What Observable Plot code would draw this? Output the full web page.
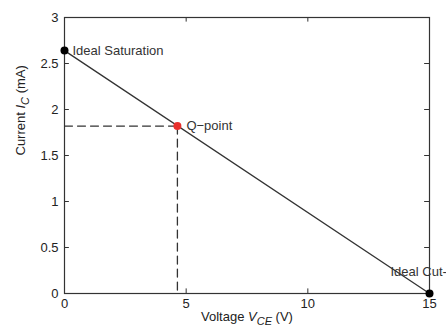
<!DOCTYPE html>
<html><head><meta charset="utf-8">
<script src="https://cdn.jsdelivr.net/npm/d3@7"></script>
<script src="https://cdn.jsdelivr.net/npm/@observablehq/plot@0.6"></script>
<style>body{margin:0;background:#fff;overflow:hidden}svg{overflow:hidden}</style>
</head><body><div id="c"></div>
<script>
const loadLineV = [0, 15];
const loadLineI = [2.64, 0];
const qV = 4.64, qI = 1.82;
const endPointsV = [0, 15];
const endPointsI = [2.64, 0];
const labels = ["Ideal Saturation", "Q\u2212point", "Ideal Cut-off"];
const xTicks = [0, 5, 10, 15];
const yTicks = [0, 0.5, 1, 1.5, 2, 2.5, 3];

const line = loadLineV.map((v, i) => ({v, i: loadLineI[i]}));
const ends = endPointsV.map((v, i) => ({v, i: endPointsI[i]}));
const font = "Liberation Sans, Arial, Helvetica, sans-serif";

const chart = Plot.plot({
  width: 446, height: 333,
  marginLeft: 64, marginRight: 17, marginTop: 17, marginBottom: 40,
  style: {fontFamily: font, fontSize: "13px", color: "#222", background: "#fff"},
  x: {domain: [0, 15], ticks: xTicks, label: null},
  y: {domain: [0, 3], ticks: yTicks, label: null},
  marks: [
    Plot.axisX({ticks: xTicks, tickSize: 0, tickPadding: 5, label: null, fontSize: 13, tickFormat: d => String(d)}),
    Plot.axisY({ticks: yTicks, tickSize: 0, tickPadding: 6, label: null, fontSize: 13, tickFormat: d => String(d)}),
    Plot.ruleX(xTicks, {x: d => d, y1: 0, y2: 0.05, stroke: "#333"}),
    Plot.ruleX(xTicks, {x: d => d, y1: 3, y2: 2.95, stroke: "#333"}),
    Plot.ruleY(yTicks, {y: d => d, x1: 0, x2: 0.2, stroke: "#333"}),
    Plot.ruleY(yTicks, {y: d => d, x1: 15, x2: 14.8, stroke: "#333"}),
    Plot.frame({stroke: "#333", strokeWidth: 1.2}),
    Plot.line([{v: 0, i: qI}, {v: qV, i: qI}], {x: "v", y: "i", stroke: "#333", strokeWidth: 1.3, strokeDasharray: "8,5"}),
    Plot.line([{v: qV, i: qI}, {v: qV, i: 0}], {x: "v", y: "i", stroke: "#333", strokeWidth: 1.3, strokeDasharray: "8,5"}),
    Plot.line(line, {x: "v", y: "i", stroke: "#333", strokeWidth: 1.3}),
    Plot.dot(ends, {x: "v", y: "i", r: 4, fill: "#000"}),
    Plot.dot([{v: qV, i: qI}], {x: "v", y: "i", r: 4, fill: "#e8302c"}),
    Plot.text([labels[0]], {x: 0, y: endPointsI[0], text: d => d, textAnchor: "start", dx: 8, fontSize: 13, fill: "#333"}),
    Plot.text([labels[1]], {x: qV, y: qI, text: d => d, textAnchor: "start", dx: 9, fontSize: 13, fill: "#333"}),
    Plot.text([labels[2]], {x: 15, y: 0, text: d => d, textAnchor: "start", dx: -39, dy: -22, fontSize: 13, fill: "#333"}),
    Plot.text(["Voltage"], {frameAnchor: "bottom", text: d => d, dy: 27, fontSize: 13, className: "xlab"}),
    Plot.text(["Current"], {frameAnchor: "left", text: d => d, dx: -44, rotate: -90, fontSize: 13, className: "ylab"})
  ]
});
document.getElementById("c").appendChild(chart);
d3.select(chart).select(".xlab text").html('Voltage <tspan font-style="italic">V</tspan><tspan dy="4" font-size="11" font-style="italic">CE</tspan><tspan dy="-4"> (V)</tspan>');
d3.select(chart).select(".ylab text").html('Current <tspan font-style="italic">I</tspan><tspan dy="4" font-size="11" font-style="italic">C</tspan><tspan dy="-4"> (mA)</tspan>');
</script></body></html>
